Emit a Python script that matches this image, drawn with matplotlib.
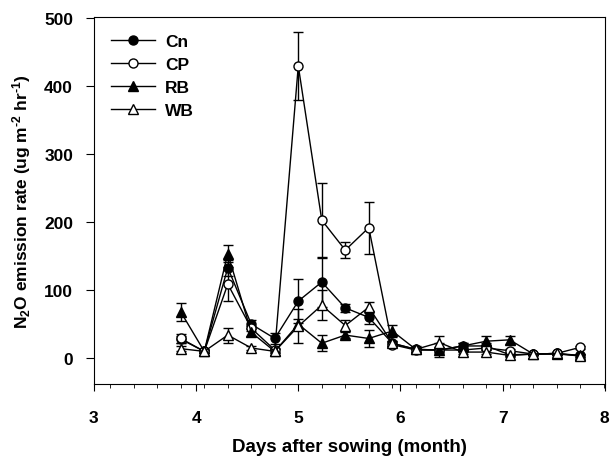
import matplotlib
matplotlib.use('Agg')
import matplotlib.pyplot as plt
from matplotlib.lines import Line2D
import numpy as np

plt.rcParams['font.family'] = ['Liberation Sans', 'DejaVu Sans']
plt.rcParams['font.weight'] = 'bold'
plt.rcParams['mathtext.fontset'] = 'custom'
plt.rcParams['mathtext.rm'] = 'Liberation Sans:bold'
plt.rcParams['mathtext.default'] = 'rm'

# months after sowing (weekly sampling)
months = [3.85, 4.08, 4.31, 4.54, 4.77, 5.00, 5.23, 5.46, 5.69, 5.92,
          6.15, 6.38, 6.61, 6.84, 7.07, 7.30, 7.53, 7.76]

cn = [28, 10, 133, 50, 29, 84, 112, 74, 60, 22, 13, 12, 18, 18, 5, 6, 7, 4]
cn_err = [5, 3, 12, 6, 8, 32, 36, 6, 10, 4, 4, 4, 4, 4, 2, 2, 2, 2]
cp = [29, 10, 109, 44, 12, 430, 203, 159, 192, 20, 12, 12, 12, 15, 11, 6, 7, 16]
cp_err = [7, 2, 25, 4, 3, 50, 54, 12, 38, 4, 3, 3, 3, 3, 2, 2, 2, 2]
rb = [68, 10, 154, 38, 10, 50, 22, 34, 29, 40, 13, 12, 18, 25, 27, 6, 6, 4]
rb_err = [13, 2, 12, 5, 3, 8, 12, 5, 12, 9, 5, 10, 4, 8, 6, 2, 2, 2]
wb = [14, 10, 34, 15, 10, 47, 78, 48, 75, 22, 13, 23, 9, 9, 4, 6, 7, 3]
wb_err = [4, 2, 11, 3, 3, 25, 22, 8, 8, 4, 4, 10, 3, 3, 2, 2, 2, 2]

fig = plt.figure(figsize=(6.14, 4.6), dpi=100)
ax = fig.add_axes([0.153, 0.163, 0.832, 0.798])

series = [
    ('Cn', cn, cn_err, 'o', 'black'),
    ('CP', cp, cp_err, 'o', 'white'),
    ('RB', rb, rb_err, '^', 'black'),
    ('WB', wb, wb_err, '^', 'white'),
]
handles = []
for name, vals, err, mk, fc in series:
    ax.errorbar(months, vals, yerr=err, color='black',
                marker=mk, markerfacecolor=fc, markeredgecolor='black',
                markersize=6.5, linewidth=1, elinewidth=1, capsize=3.5,
                capthick=1)
    handles.append(Line2D([], [], color='black', marker=mk, markerfacecolor=fc,
                          markeredgecolor='black', markersize=6.5, linewidth=1,
                          label=name))

ax.set_xlim(3, 8)
ax.set_ylim(-38, 502)
ax.set_xticks([3, 4, 5, 6, 7, 8])
ax.set_yticks([0, 100, 200, 300, 400, 500])
step = months[1] - months[0]
ax.set_xticks(np.arange(months[0] - 3 * step, 8.01, step), minor=True)
ax.tick_params(axis='y', which='major', labelsize=12.5, length=6, pad=9)
ax.tick_params(axis='x', which='major', labelsize=12.5, length=5, pad=14)
ax.tick_params(axis='x', which='minor', length=3)
for lab in ax.get_xticklabels() + ax.get_yticklabels():
    lab.set_fontweight('bold')

ax.set_xlabel('Days after sowing (month)', fontsize=13.5, fontweight='bold', labelpad=9)
ax.set_ylabel(r'N$_2$O emission rate (ug m$^{\text{-}2}$ hr$^{\text{-}1}$)',
              fontsize=12.5, fontweight='bold', labelpad=8)

leg = ax.legend(handles=handles, loc='upper left', frameon=False, fontsize=12.5,
                handlelength=2.5, borderaxespad=0.6, labelspacing=0.45,
                handletextpad=0.6)
for t in leg.get_texts():
    t.set_fontweight('bold')

fig.savefig('out.png', dpi=100)
